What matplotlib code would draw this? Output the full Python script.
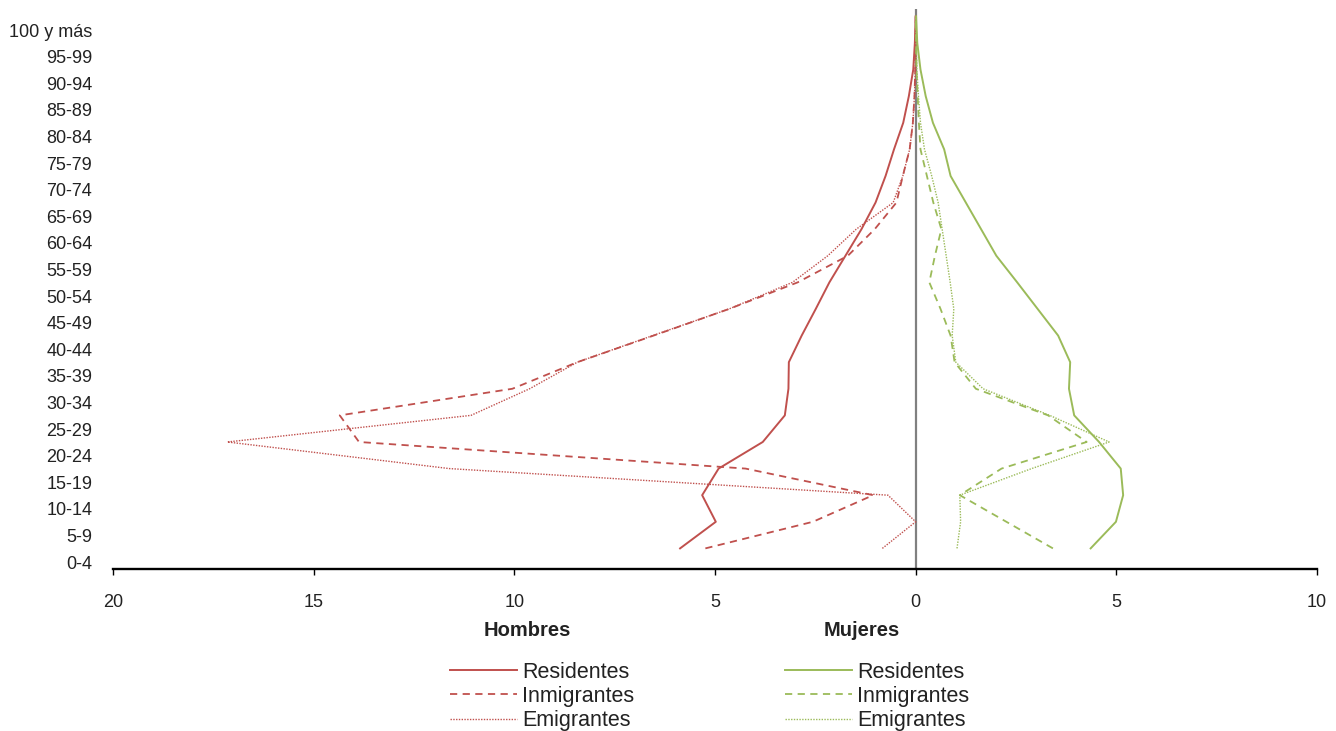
import matplotlib
matplotlib.use("Agg")
import matplotlib.pyplot as plt
from matplotlib.lines import Line2D
from matplotlib.ticker import FuncFormatter

plt.rcParams['font.family'] = ['Liberation Sans', 'DejaVu Sans']

# age groups, bottom to top
grupos = ["0-4", "5-9", "10-14", "15-19", "20-24", "25-29", "30-34", "35-39",
          "40-44", "45-49", "50-54", "55-59", "60-64", "65-69", "70-74",
          "75-79", "80-84", "85-89", "90-94", "95-99", "100 y más"]

# percentages (men shown on the left)
hom_res = [5.87, 4.98, 5.32, 4.91, 3.81, 3.26, 3.17, 3.16, 2.84, 2.49, 2.15,
           1.75, 1.35, 1.00, 0.75, 0.54, 0.31, 0.17, 0.06, 0.02, 0.0]
hom_inm = [5.24, 2.56, 1.06, 4.24, 13.87, 14.35, 10.05, 8.43, 6.53, 4.65, 2.94,
           1.69, 1.02, 0.48, 0.32, 0.15, 0.07, 0.03, 0.01, 0.0, 0.0]
hom_emi = [0.83, 0.0, 0.69, 11.62, 17.15, 11.08, 9.62, 8.43, 6.55, 4.65, 3.07,
           2.19, 1.48, 0.56, 0.32, 0.15, 0.07, 0.03, 0.01, 0.0, 0.0]

muj_res = [4.36, 4.99, 5.17, 5.11, 4.57, 3.95, 3.82, 3.85, 3.55, 3.04, 2.53,
           2.01, 1.63, 1.25, 0.87, 0.71, 0.43, 0.25, 0.12, 0.04, 0.01]
muj_inm = [3.42, 2.26, 1.10, 2.14, 4.26, 3.30, 1.50, 0.97, 0.87, 0.62, 0.34,
           0.48, 0.64, 0.44, 0.28, 0.12, 0.08, 0.05, 0.02, 0.01, 0.0]
muj_emi = [1.03, 1.12, 1.10, 2.89, 4.82, 3.34, 1.68, 1.00, 0.91, 0.95, 0.86,
           0.76, 0.66, 0.56, 0.40, 0.22, 0.12, 0.07, 0.03, 0.01, 0.0]

ticks_x = [-20, -15, -10, -5, 0, 5, 10]
series = ["Residentes", "Inmigrantes", "Emigrantes"]

ROJO = "#C0504D"
VERDE = "#9BBB59"
estilos = {
    "Residentes": dict(linestyle="-", linewidth=1.4),
    "Inmigrantes": dict(linestyle=(0, (4, 3)), linewidth=1.3),
    "Emigrantes": dict(linestyle=(0, (1, 1)), linewidth=1.0),
}

fig = plt.figure(figsize=(13.36, 7.31), dpi=100)
ax = fig.add_axes([113 / 1336, 1 - 569 / 731, (1317 - 113) / 1336, (569 - 9.3) / 731])

# line points sit half a category above each label
ypos = [i + 0.515 for i in range(len(grupos))]

for nombre, vals in zip(series, [hom_res, hom_inm, hom_emi]):
    ax.plot([-v for v in vals], ypos, color=ROJO, **estilos[nombre])
for nombre, vals in zip(series, [muj_res, muj_inm, muj_emi]):
    ax.plot(vals, ypos, color=VERDE, **estilos[nombre])

ax.axvline(0, color="#808080", linewidth=1.6, zorder=0)

ax.set_xlim(-20, 10)
ax.set_ylim(-0.26, 20.78)
ax.set_xticks(ticks_x)
ax.xaxis.set_major_formatter(FuncFormatter(lambda v, p: f"{abs(v):g}"))
ax.set_yticks(range(len(grupos)))
ax.set_yticklabels(grupos)

for s in ["top", "right", "left"]:
    ax.spines[s].set_visible(False)
ax.spines["bottom"].set_linewidth(1.7)
ax.spines["bottom"].set_color("black")
ax.tick_params(axis="y", length=0, pad=15, labelsize=13, colors="#222222")
ax.tick_params(axis="x", direction="out", length=4, width=1, pad=14,
               labelsize=13, colors="black", labelcolor="#222222")

fig.text(527 / 1336, 1 - 630 / 731, "Hombres", ha="center", va="center",
         fontsize=14.5, fontweight="bold", color="#222222")
fig.text(862 / 1336, 1 - 630 / 731, "Mujeres", ha="center", va="center",
         fontsize=14.5, fontweight="bold", color="#222222")

# two legend columns
for color, x0 in [(ROJO, 450), (VERDE, 785)]:
    handles = [Line2D([], [], color=color, **estilos[n]) for n in series]
    leg = fig.legend(handles, series, loc="upper left",
                     bbox_to_anchor=(x0 / 1336, 1 - 661.5 / 731),
                     frameon=False, fontsize=15.5, handlelength=3.1,
                     handletextpad=0.25, labelspacing=0.16, borderpad=0,
                     borderaxespad=0)
    for t in leg.get_texts():
        t.set_color("#222222")

fig.savefig("out.png", dpi=100)
